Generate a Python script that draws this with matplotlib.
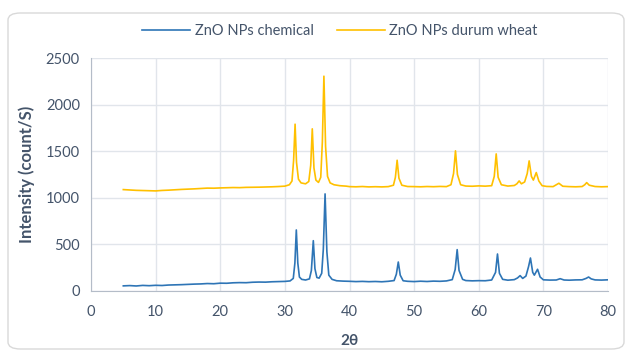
import matplotlib
matplotlib.use("Agg")
import matplotlib.pyplot as plt
from matplotlib.patches import FancyBboxPatch

# XRD patterns (2theta in degrees, intensity in count/s)
x_chem = [5, 6, 7, 8, 9, 10, 11, 12, 13, 14, 15, 16, 17, 18, 19, 20, 21, 22, 23, 24,
          25, 26, 27, 28, 29, 30, 30.8, 31.3, 31.55, 31.77, 32.0, 32.25, 32.6, 33.2,
          33.8, 34.1, 34.4, 34.65, 34.95, 35.3, 35.7, 35.95, 36.22, 36.5, 36.8, 37.3,
          38, 39, 40, 41, 42, 43, 44, 45, 46, 46.9, 47.25, 47.55, 47.85, 48.3, 49, 50,
          51, 52, 53, 54, 55, 55.9, 56.35, 56.66, 56.95, 57.5, 58, 59, 60, 61, 62,
          62.6, 62.9, 63.2, 63.7, 64.5, 65.5, 66.0, 66.4, 66.8, 67.3, 67.7, 68.0,
          68.35, 68.6, 69.1, 69.5, 70, 71, 72, 72.6, 73.2, 74, 75, 76, 76.6, 77.0,
          77.4, 78, 79, 80]
y_chem = [55, 58, 54, 60, 57, 61, 59, 64, 66, 68, 71, 74, 76, 80, 78, 84, 83, 88, 90, 89,
          94, 96, 95, 99, 101, 103, 108, 135, 300, 655, 300, 150, 125, 118,
          130, 220, 540, 240, 145, 138, 190, 450, 1042, 420, 170, 125,
          110, 106, 104, 101, 103, 100, 102, 99, 104, 112, 180, 311, 170, 110, 104, 101,
          105, 102, 106, 104, 108, 122, 230, 444, 220, 125, 112, 109, 111, 110, 118,
          200, 397, 190, 125, 116, 122, 140, 165, 135, 160, 260, 354,
          200, 170, 233, 150, 120, 117, 118, 132, 118, 116, 119, 120, 135, 150,
          130, 119, 117, 120]

x_wheat = [5, 6, 7, 8, 9, 10, 11, 12, 13, 14, 15, 16, 17, 18, 19, 20, 21, 22, 23, 24,
           25, 26, 27, 28, 29, 30, 30.7, 31.1, 31.35, 31.58, 31.8, 32.1, 32.5, 33.2,
           33.7, 34.0, 34.24, 34.5, 34.8, 35.2, 35.55, 35.8, 36.04, 36.3, 36.6, 37.0,
           37.6, 38.5, 39.5, 40, 41, 42, 43, 44, 45, 46, 46.8, 47.1, 47.37, 47.65, 48.1,
           49, 50, 51, 52, 53, 54, 55, 55.7, 56.1, 56.4, 56.7, 57.2, 58, 59, 60, 61,
           62, 62.4, 62.7, 63.0, 63.5, 64.5, 65.5, 65.9, 66.25, 66.6, 67.1, 67.5, 67.8,
           68.15, 68.45, 68.9, 69.3, 69.8, 70.5, 71.5, 72.4, 73.0, 74, 75, 76, 76.4,
           76.7, 77.1, 78, 79, 80]
y_wheat = [1088, 1084, 1080, 1078, 1076, 1074, 1079, 1082, 1086, 1090, 1093, 1096, 1100,
           1104, 1103, 1106, 1108, 1110, 1109, 1112, 1113, 1114, 1116, 1118, 1121, 1125,
           1140, 1180, 1400, 1790, 1380, 1200, 1160, 1150, 1175, 1350, 1740, 1320, 1190,
           1165, 1220, 1600, 2305, 1550, 1230, 1160, 1140, 1130, 1125, 1120, 1118, 1121,
           1117, 1119, 1117, 1120, 1135, 1220, 1403, 1210, 1135, 1121, 1120, 1118, 1121,
           1119, 1122, 1120, 1140, 1260, 1504, 1250, 1140, 1126, 1124, 1128, 1125, 1130,
           1230, 1471, 1220, 1140, 1126, 1132, 1150, 1181, 1150, 1170, 1260, 1396, 1230,
           1190, 1271, 1180, 1130, 1122, 1120, 1156, 1124, 1120, 1118, 1121, 1140, 1163,
           1135, 1121, 1118, 1120]

text_col = "#44546A"

fig = plt.figure(figsize=(6.28, 3.51), dpi=100)
plt.rcParams["font.family"] = ["Lato", "DejaVu Sans"]

# chart frame
frame = FancyBboxPatch((8 / 628, 2 / 351), 616 / 628, 336 / 351,
                       boxstyle="round,pad=0,rounding_size=0.02",
                       transform=fig.transFigure, facecolor="white",
                       edgecolor="#D9D9D9", linewidth=1.0, zorder=-1)
fig.patches.append(frame)

ax = fig.add_axes([91 / 628, 60 / 351, 517 / 628, 233 / 351])
ax.plot(x_chem, y_chem, color="#2E75B6", linewidth=1.2, label="ZnO NPs chemical")
ax.plot(x_wheat, y_wheat, color="#FFC000", linewidth=1.2, label="ZnO NPs durum wheat")

ax.set_xlim(0, 80)
ax.set_ylim(0, 2500)
ax.set_xticks(range(0, 81, 10))
ax.set_yticks(range(0, 2501, 500))
ax.grid(True, color="#E1E5EB", linewidth=1.0)
ax.set_axisbelow(True)
for s in ["top", "right"]:
    ax.spines[s].set_visible(False)
for s in ["left", "bottom"]:
    ax.spines[s].set_color("#B4BCC8")
ax.tick_params(length=0, labelsize=10.5, colors=text_col, pad=8)
ax.tick_params(axis="x", pad=10)

ax.set_xlabel("2θ", fontsize=11, fontweight="bold", color=text_col, labelpad=11)
ax.set_ylabel("Intensity (count/S)", fontsize=12, fontweight="bold", color=text_col, labelpad=8)

fig.legend(loc="center", bbox_to_anchor=(340 / 628, 1 - 31 / 351), ncol=2, frameon=False,
           fontsize=10.5, labelcolor=text_col, handlelength=3.3, columnspacing=1.6,
           handletextpad=0.3)

fig.savefig("out.png", dpi=100)
